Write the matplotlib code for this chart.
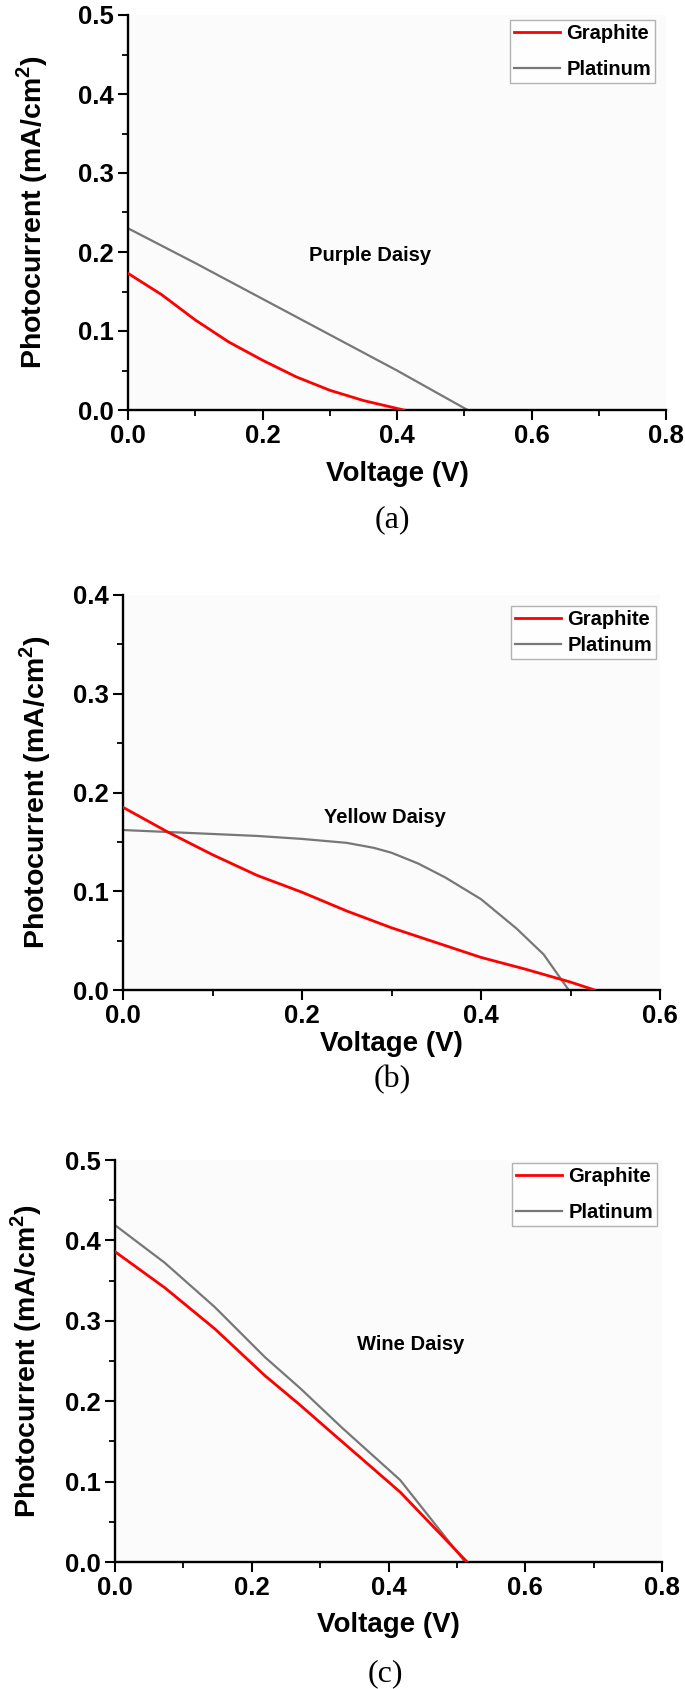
import matplotlib
matplotlib.use('Agg')
import matplotlib.pyplot as plt
from matplotlib.ticker import MultipleLocator, FormatStrFormatter

plt.rcParams['font.family'] = ['Liberation Sans', 'DejaVu Sans']
plt.rcParams['font.weight'] = 'bold'
plt.rcParams['mathtext.fontset'] = 'custom'
plt.rcParams['mathtext.bf'] = 'Liberation Sans:bold'
plt.rcParams['mathtext.rm'] = 'Liberation Sans:bold'

# (a) Purple Daisy
v_a_graphite = [0.0, 0.05, 0.10, 0.15, 0.20, 0.25, 0.30, 0.35, 0.40, 0.41]
i_a_graphite = [0.173, 0.146, 0.114, 0.086, 0.063, 0.042, 0.025, 0.012, 0.002, 0.0]
v_a_platinum = [0.0, 0.1, 0.25, 0.4, 0.505]
i_a_platinum = [0.230, 0.186, 0.118, 0.050, 0.0]

# (b) Yellow Daisy
v_b_graphite = [0.0, 0.05, 0.10, 0.15, 0.20, 0.25, 0.30, 0.35, 0.40, 0.45, 0.50, 0.527]
i_b_graphite = [0.185, 0.160, 0.137, 0.116, 0.099, 0.080, 0.063, 0.048, 0.033, 0.021, 0.008, 0.0]
v_b_platinum = [0.0, 0.05, 0.10, 0.15, 0.20, 0.25, 0.28, 0.30, 0.33, 0.36, 0.40, 0.44, 0.47, 0.498]
i_b_platinum = [0.162, 0.160, 0.158, 0.156, 0.153, 0.149, 0.144, 0.139, 0.128, 0.114, 0.092, 0.062, 0.036, 0.0]

# (c) Wine Daisy
v_c_graphite = [0.0, 0.073, 0.146, 0.219, 0.271, 0.31, 0.417, 0.47, 0.515]
i_c_graphite = [0.386, 0.341, 0.290, 0.232, 0.195, 0.166, 0.087, 0.040, 0.0]
v_c_platinum = [0.0, 0.073, 0.146, 0.219, 0.271, 0.332, 0.417, 0.47, 0.512]
i_c_platinum = [0.419, 0.372, 0.317, 0.255, 0.216, 0.167, 0.102, 0.045, 0.0]

W, H = 685, 1689
fig = plt.figure(figsize=(W / 100, H / 100), dpi=100)

panels = [
    # box = (left, right, top, bottom) in pixels
    dict(box=(128, 666, 15, 410), xmax=0.8, ymax=0.5,
         vg=v_a_graphite, ig=i_a_graphite, vp=v_a_platinum, ip=i_a_platinum,
         name='Purple Daisy', npos=(0.36, 0.196), leg=(0.980, 0.987), lsp=0.85,
         cap='(a)', cappos=(392, 520), ylx=-0.145, xly=-0.13),
    dict(box=(123, 660, 595, 990), xmax=0.6, ymax=0.4,
         vg=v_b_graphite, ig=i_b_graphite, vp=v_b_platinum, ip=i_b_platinum,
         name='Yellow Daisy', npos=(0.293, 0.175), leg=(0.993, 0.972), lsp=0.35,
         cap='(b)', cappos=(392, 1080), ylx=-0.13, xly=-0.105),
    dict(box=(115, 662, 1160, 1562), xmax=0.8, ymax=0.5,
         vg=v_c_graphite, ig=i_c_graphite, vp=v_c_platinum, ip=i_c_platinum,
         name='Wine Daisy', npos=(0.433, 0.27), leg=(0.991, 0.993), lsp=0.85,
         cap='(c)', cappos=(385, 1674), ylx=-0.13, xly=-0.125),
]

for p in panels:
    l, r, t, b = p['box']
    ax = fig.add_axes([l / W, 1 - b / H, (r - l) / W, (b - t) / H])
    ax.set_facecolor('#fbfbfb')
    ax.plot(p['vg'], p['ig'], color='#ff0000', lw=2.0, label='Graphite', zorder=3)
    ax.plot(p['vp'], p['ip'], color='#777777', lw=1.6, label='Platinum', zorder=2)
    ax.set_xlim(0, p['xmax'])
    ax.set_ylim(0, p['ymax'])
    for s in ['top', 'right']:
        ax.spines[s].set_visible(False)
    for s in ['left', 'bottom']:
        ax.spines[s].set_linewidth(1.7)
    ax.xaxis.set_major_locator(MultipleLocator(0.2))
    ax.xaxis.set_minor_locator(MultipleLocator(0.1))
    ax.yaxis.set_major_locator(MultipleLocator(0.1))
    ax.yaxis.set_minor_locator(MultipleLocator(0.05))
    ax.xaxis.set_major_formatter(FormatStrFormatter('%.1f'))
    ax.yaxis.set_major_formatter(FormatStrFormatter('%.1f'))
    ax.tick_params(which='major', direction='out', length=7, width=1.5,
                   labelsize=18.5, pad=3)
    ax.tick_params(which='minor', direction='out', length=4, width=1.3)
    for lab in ax.get_xticklabels() + ax.get_yticklabels():
        lab.set_fontweight('bold')
    ax.set_xlabel('Voltage (V)', fontsize=20, fontweight='bold')
    ax.xaxis.set_label_coords(0.5, p['xly'])
    ax.set_ylabel(r'Photocurrent (mA/cm$^{\mathbf{2}}$)', fontsize=20.5, fontweight='bold')
    ax.yaxis.set_label_coords(p['ylx'], 0.5)
    ax.text(p['npos'][0], p['npos'][1], p['name'], fontsize=14.5, fontweight='bold',
            ha='center', va='center')
    leg = ax.legend(loc='upper right', bbox_to_anchor=p['leg'], borderaxespad=0,
                    fontsize=14.5, frameon=True, fancybox=False, edgecolor='#a0a0a0',
                    handlelength=2.3, handletextpad=0.3, borderpad=0.2,
                    labelspacing=p['lsp'])
    leg.get_frame().set_linewidth(1.0)
    for txt in leg.get_texts():
        txt.set_fontweight('bold')
    fig.text(p['cappos'][0] / W, 1 - p['cappos'][1] / H, p['cap'],
             family='Liberation Serif', fontweight='normal', fontsize=23,
             ha='center', va='center')

fig.savefig('out.png', dpi=100, facecolor='white')
